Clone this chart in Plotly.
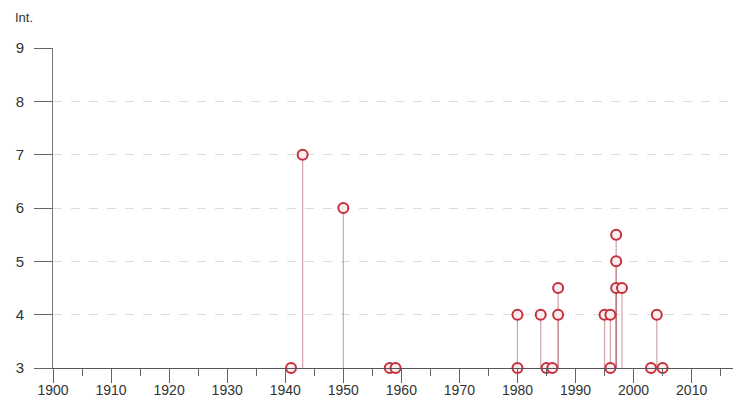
import plotly.graph_objects as go

years = [1941, 1943, 1950, 1958, 1959, 1980, 1980, 1984, 1985, 1986, 1987, 1987,
         1995, 1996, 1996, 1997, 1997, 1997, 1998, 2003, 2004, 2005]
intensity = [3, 7, 6, 3, 3, 3, 4, 4, 3, 3, 4, 4.5,
             4, 4, 3, 5.5, 5, 4.5, 4.5, 3, 4, 3]
x_ticks = list(range(1900, 2020, 10))
y_ticks = [3, 4, 5, 6, 7, 8, 9]
baseline = 3

stem_x, stem_y = [], []
for yr, v in zip(years, intensity):
    if v > baseline:
        stem_x += [yr, yr, None]
        stem_y += [baseline, v, None]

fig = go.Figure()
fig.add_trace(go.Scatter(x=stem_x, y=stem_y, mode="lines",
                         line=dict(color="rgba(175,85,95,0.55)", width=1.2),
                         hoverinfo="skip", cliponaxis=False))
fig.add_trace(go.Scatter(x=years, y=intensity, mode="markers",
                         marker=dict(symbol="circle", size=10, color="#fdeef0",
                                     line=dict(color="#c5303c", width=2)),
                         cliponaxis=False))

# page body has an 8px default margin; size the figure so it fills the window
fig.update_layout(
    width=733, height=392,
    margin=dict(l=45, r=0, t=40, b=32, autoexpand=False),
    paper_bgcolor="white", plot_bgcolor="white",
    showlegend=False,
    font=dict(family="Liberation Sans, Arial, sans-serif", size=15, color="#333"),
    annotations=[dict(text="Int.", xref="paper", yref="paper", x=-0.058, y=1.094,
                      xanchor="left", yanchor="middle", showarrow=False,
                      font=dict(size=13, color="#333"))],
)
fig.update_xaxes(range=[1900, 2018.5], tickvals=x_ticks, ticks="outside",
                 ticklen=14, tickcolor="#666", tickwidth=1, automargin=False,
                 ticklabelstandoff=-5, tickfont=dict(size=14),
                 showline=True, linecolor="#555", linewidth=1,
                 showgrid=False, zeroline=False,
                 minor=dict(dtick=5, tick0=1900, ticks="outside", ticklen=7,
                            tickcolor="#666", showgrid=False))
fig.update_yaxes(range=[3, 9], tickvals=y_ticks, ticks="outside", ticklen=18,
                 tickcolor="#666", tickwidth=1, ticklabelstandoff=7, automargin=False,
                 showline=True, linecolor="#777", linewidth=1,
                 showgrid=True, gridcolor="#dcdcdc", griddash="dash", gridwidth=1,
                 zeroline=False)

fig.write_html("out.html")
